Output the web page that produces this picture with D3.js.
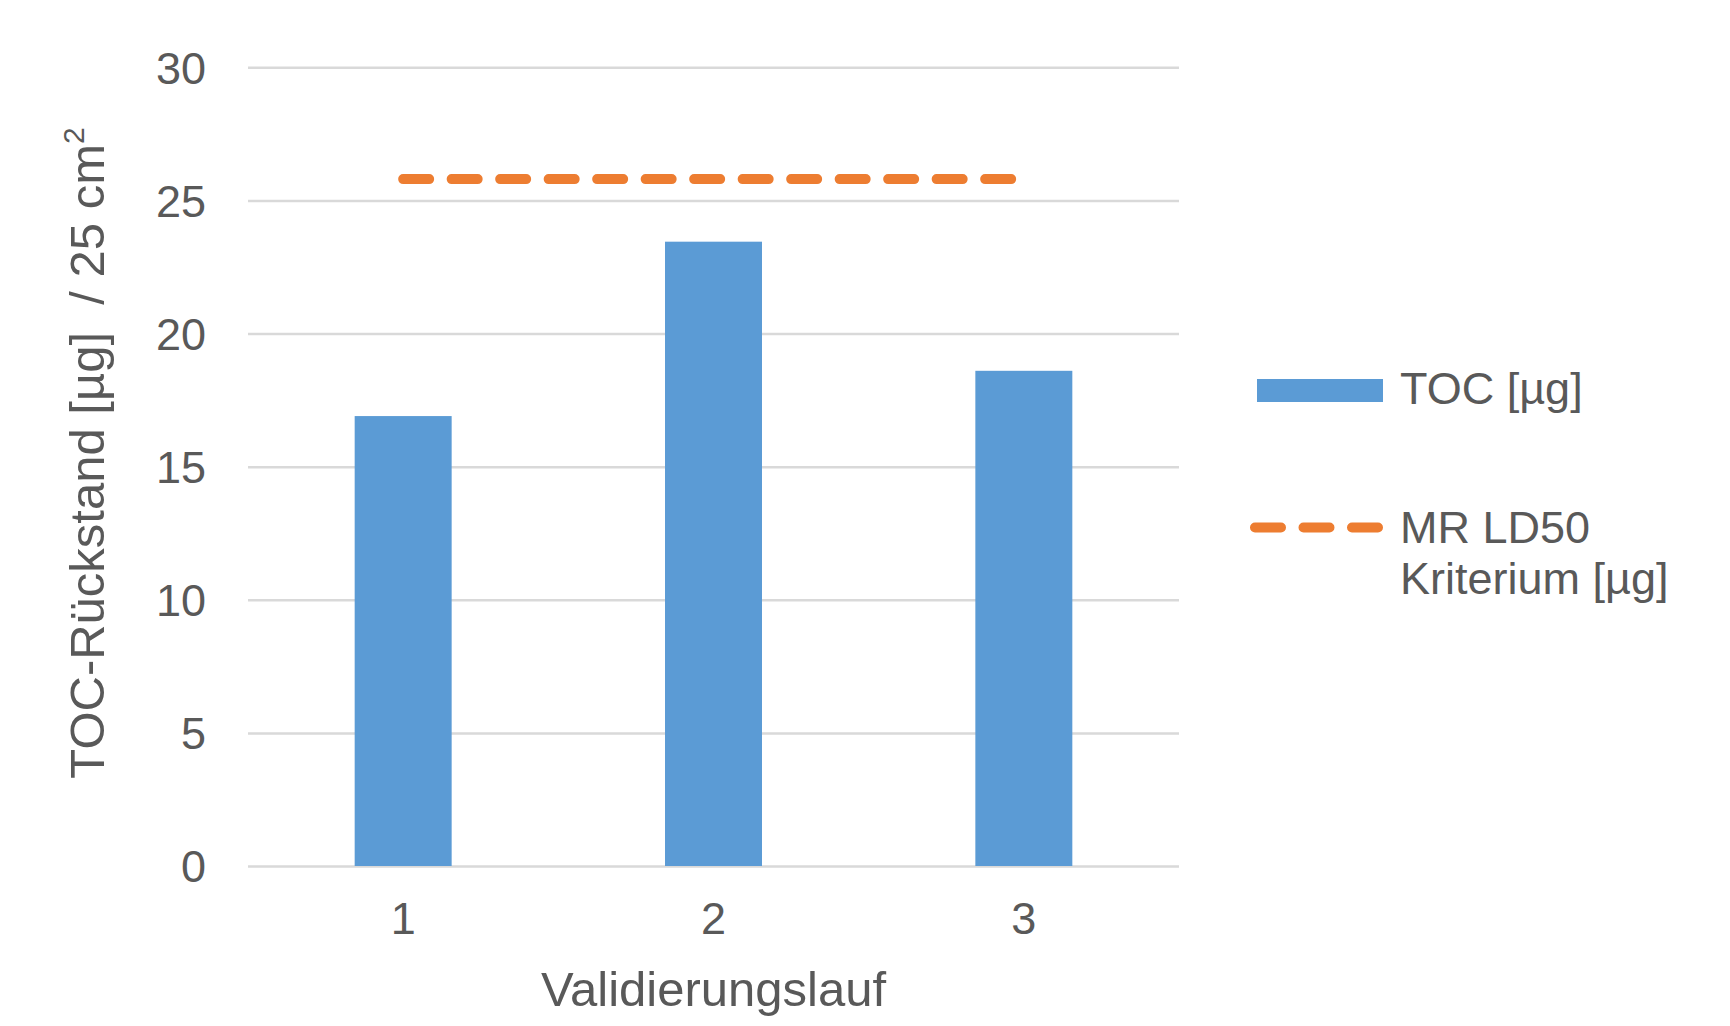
<!DOCTYPE html>
<html>
<head>
<meta charset="utf-8">
<script src="https://cdn.jsdelivr.net/npm/d3@7"></script>
<style>
  html, body { margin: 0; padding: 0; background: #ffffff; }
  svg { display: block; font-family: "Liberation Sans", Arial, sans-serif; }
</style>
</head>
<body>
<svg id="chart" width="1730" height="1026"></svg>
<script>
// Validation runs and measured TOC residue per 25 cm²
const categories = ["1", "2", "3"];
const tocValues = [16.9, 23.45, 18.6];
// MR LD50 acceptance criterion (constant across runs)
const criterionValues = [25.8, 25.8, 25.8];
const yTicks = [0, 5, 10, 15, 20, 25, 30];

const seriesNames = ["TOC [µg]", "MR LD50", "Kriterium [µg]"];
const xTitle = "Validierungslauf";
const yTitle = "TOC-Rückstand [µg]\u00a0 / 25 cm";

const textColor = "#595959";
const gridColor = "#d9d9d9";
const barColor = "#5b9bd5";
const lineColor = "#ed7d31";

const svg = d3.select("#chart");

const plot = { left: 248, right: 1179, top: 67.3, bottom: 866 };

const x = d3.scaleBand()
  .domain(categories)
  .range([plot.left, plot.right])
  .paddingInner(0)
  .paddingOuter(0);

const y = d3.scaleLinear()
  .domain([0, 30])
  .range([plot.bottom, plot.top]);

// Horizontal gridlines and value labels
const yAxis = d3.axisLeft(y)
  .tickValues(yTicks)
  .tickSize(-(plot.right - plot.left))
  .tickPadding(42)
  .tickFormat(d3.format("d"));

const gy = svg.append("g")
  .attr("transform", `translate(${plot.left},0)`)
  .call(yAxis);
gy.select(".domain").remove();
gy.selectAll(".tick line")
  .attr("stroke", gridColor)
  .attr("stroke-width", 2.5);
gy.selectAll(".tick text")
  .attr("fill", textColor)
  .attr("font-size", 45)
  .attr("dy", "0.35em");

// Category labels
const xAxis = d3.axisBottom(x).tickSize(0).tickPadding(36);
const gx = svg.append("g")
  .attr("transform", `translate(0,${plot.bottom})`)
  .call(xAxis);
gx.select(".domain").remove();
gx.selectAll(".tick text")
  .attr("fill", textColor)
  .attr("font-size", 45);

// Bars (gap width 220 %)
const barWidth = x.bandwidth() / 3.2;
svg.append("g")
  .selectAll("rect")
  .data(categories.map((c, i) => ({ c, v: tocValues[i] })))
  .join("rect")
  .attr("x", d => x(d.c) + x.bandwidth() / 2 - barWidth / 2)
  .attr("width", barWidth)
  .attr("y", d => y(d.v))
  .attr("height", d => y(0) - y(d.v))
  .attr("fill", barColor);

// Criterion line
const line = d3.line()
  .x(d => x(d.c) + x.bandwidth() / 2)
  .y(d => y(d.v));

svg.append("path")
  .datum(categories.map((c, i) => ({ c, v: criterionValues[i] })))
  .attr("d", line)
  .attr("fill", "none")
  .attr("stroke", lineColor)
  .attr("stroke-width", 10)
  .attr("stroke-linecap", "round")
  .attr("stroke-dasharray", "26 22.5");

// Axis titles
svg.append("text")
  .attr("x", (plot.left + plot.right) / 2)
  .attr("y", 1006)
  .attr("text-anchor", "middle")
  .attr("fill", textColor)
  .attr("font-size", 49)
  .text(xTitle);

const yt = svg.append("text")
  .attr("transform", "translate(104,453) rotate(-90)")
  .attr("text-anchor", "middle")
  .attr("fill", textColor)
  .attr("font-size", 49)
  .style("white-space", "pre");
yt.append("tspan").text(yTitle);
yt.append("tspan")
  .attr("font-size", 30)
  .attr("dy", -20)
  .text("2");

// Legend
const legend = svg.append("g");
legend.append("rect")
  .attr("x", 1257)
  .attr("y", 379)
  .attr("width", 126)
  .attr("height", 23)
  .attr("fill", barColor);
legend.append("text")
  .attr("x", 1400)
  .attr("y", 404)
  .attr("fill", textColor)
  .attr("font-size", 45)
  .text(seriesNames[0]);

legend.append("line")
  .attr("x1", 1255)
  .attr("x2", 1378)
  .attr("y1", 527.5)
  .attr("y2", 527.5)
  .attr("stroke", lineColor)
  .attr("stroke-width", 10)
  .attr("stroke-linecap", "round")
  .attr("stroke-dasharray", "26 22.5");
legend.append("text")
  .attr("x", 1400)
  .attr("y", 543)
  .attr("fill", textColor)
  .attr("font-size", 45)
  .text(seriesNames[1]);
legend.append("text")
  .attr("x", 1400)
  .attr("y", 594)
  .attr("fill", textColor)
  .attr("font-size", 45)
  .text(seriesNames[2]);
</script>
</body>
</html>
